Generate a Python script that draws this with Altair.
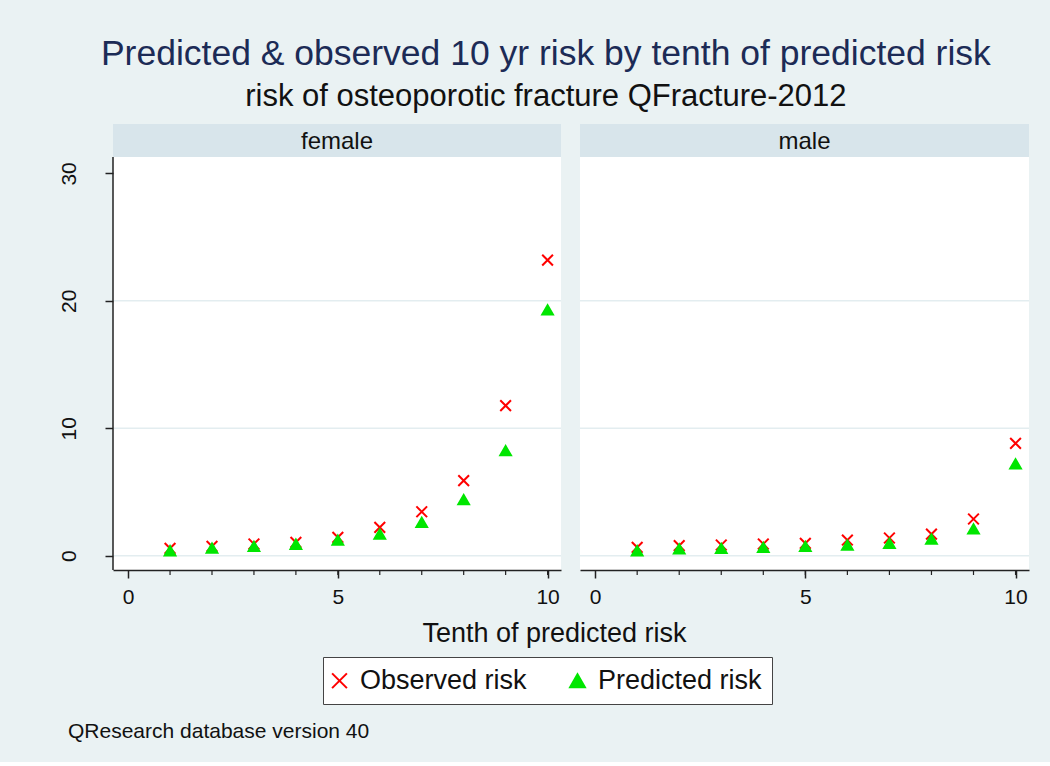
import altair as alt
import pandas as pd

FONT = "Liberation Sans"

# Tenths of predicted risk (x) and 10-year risk in percent (y)
tenths = [1, 2, 3, 4, 5, 6, 7, 8, 9, 10]
female_observed = [0.58, 0.74, 0.92, 1.05, 1.44, 2.23, 3.45, 5.89, 11.78, 23.2]
female_predicted = [0.39, 0.60, 0.74, 0.90, 1.23, 1.70, 2.62, 4.40, 8.24, 19.29]
male_observed = [0.66, 0.79, 0.84, 0.92, 0.97, 1.23, 1.39, 1.70, 2.88, 8.82]
male_predicted = [0.39, 0.53, 0.58, 0.66, 0.74, 0.84, 0.97, 1.31, 2.10, 7.20]

groups = ["female", "male"]
series_names = ["Observed risk", "Predicted risk"]
x_tick_values = [0, 5, 10]
y_tick_values = [0, 10, 20, 30]
grid_levels = [0, 10, 20]

title_text = "Predicted & observed 10 yr risk by tenth of predicted risk"
subtitle_text = "risk of osteoporotic fracture QFracture-2012"
x_title = "Tenth of predicted risk"
footer_text = "QResearch database version 40"

rows = []
for sex, obs, pred in [("female", female_observed, female_predicted),
                       ("male", male_observed, male_predicted)]:
    for name, vals in [("Observed risk", obs), ("Predicted risk", pred)]:
        for t, v in zip(tenths, vals):
            rows.append({"sex": sex, "tenth": t, "series": name, "risk": v})
df = pd.DataFrame(rows)

# Each panel: a 33px header strip on top of a 413px plotting region
HEADER_H = 33
PANEL_H = 446
X_SCALE = alt.Scale(domain=[-0.36, 10.32], nice=False, zero=False)
Y_SCALE = alt.Scale(domain=[-1.12, 33.88], nice=False, zero=False)

# X drawn as two crossing strokes, triangles filled
X_PATH = "M-1,-1L1,1M1,-1L-1,1"
shape_scale = alt.Scale(domain=series_names, range=[X_PATH, "triangle-up"])
color_scale = alt.Scale(domain=series_names, range=["#FF0000", "#00E600"])

legend = alt.Legend(
    title=None, orient="none", legendX=210, legendY=533,
    direction="horizontal", fillColor="white", strokeColor="#444",
    padding=10, labelFontSize=27, labelFont=FONT, labelColor="#111",
    labelLimit=0, symbolSize=220, symbolStrokeWidth=2, columnPadding=39,
    labelOffset=7, symbolOffset=-7,
)


def panel(sex, width, first):
    label_df = pd.DataFrame({"sex": [sex]})

    x_axis = alt.Axis(
        values=x_tick_values, format="d", grid=False,
        domainColor="#222", domainWidth=1.5, tickColor="#222", tickWidth=1.5,
        tickSize=8, labelFontSize=21, labelFont=FONT, labelColor="#111",
        labelPadding=8,
        title=x_title if first else None,
        **(dict(titleX=441, titleY=71, titleBaseline="alphabetic",
                titleAlign="center", titleFontSize=27, titleFont=FONT,
                titleColor="#111", titleFontWeight="normal") if first else {}),
    )
    if first:
        y_axis = alt.Axis(
            values=y_tick_values, grid=False, title=None, domain=False,
            tickColor="#222", tickWidth=1.5, tickSize=8, labelAngle=270,
            labelAlign="center", labelBaseline="alphabetic", labelPadding=30,
            labelFontSize=21, labelFont=FONT, labelColor="#111",
        )
    else:
        y_axis = None

    x_enc = alt.X("tenth:Q", scale=X_SCALE, axis=x_axis)

    grid = alt.Chart(pd.DataFrame({"level": grid_levels})).mark_rule(
        color="#E3EDF0", strokeWidth=1.5
    ).encode(y=alt.Y("level:Q", scale=Y_SCALE, axis=y_axis))

    strip = alt.Chart(label_df).mark_rect(color="#D8E5EB").encode(
        x=alt.value(0), x2=alt.value(width),
        y=alt.value(0), y2=alt.value(HEADER_H),
    )
    strip_text = alt.Chart(label_df).mark_text(
        fontSize=24, font=FONT, color="#111", baseline="alphabetic"
    ).encode(text="sex:N", x=alt.value(width / 2), y=alt.value(25))

    # short minor ticks at every tenth below the x axis line
    minor = alt.Chart(pd.DataFrame({"tenth": tenths})).mark_rule(
        color="#222", strokeWidth=1.2
    ).encode(x=x_enc, y=alt.value(PANEL_H), y2=alt.value(PANEL_H + 5))

    points = alt.Chart(df).transform_filter(
        alt.datum.sex == sex
    ).mark_point(size=115, strokeWidth=2, opacity=1).encode(
        x=x_enc,
        y=alt.Y("risk:Q", scale=Y_SCALE, axis=y_axis),
        shape=alt.Shape("series:N", scale=shape_scale, legend=legend),
        fill=alt.Fill("series:N", scale=color_scale, legend=legend),
        stroke=alt.Stroke("series:N", scale=color_scale, legend=legend),
    )

    layers = [grid, strip, strip_text, minor, points]
    if first:
        y_line = alt.Chart(label_df).mark_rule(
            color="#222", strokeWidth=1.5
        ).encode(x=alt.value(0), y=alt.value(HEADER_H), y2=alt.value(PANEL_H))
        note = alt.Chart(pd.DataFrame({"note": [footer_text]})).mark_text(
            align="left", baseline="alphabetic", fontSize=21, font=FONT,
            color="#111",
        ).encode(text="note:N", x=alt.value(-45), y=alt.value(614))
        layers += [y_line, note]

    return alt.layer(*layers).properties(width=width, height=PANEL_H)


chart = alt.hconcat(
    panel("female", 448, True),
    panel("male", 449, False),
    spacing=19,
    bounds="flush",
    title=alt.TitleParams(
        text=title_text, subtitle=subtitle_text,
        fontSize=35.5, font=FONT, color="#1C2B56", fontWeight="normal",
        subtitleFontSize=31, subtitleFont=FONT, subtitleColor="#111",
        subtitlePadding=10, anchor="middle", offset=12, dx=2,
    ),
).configure(
    background="#EAF2F3",
    padding={"left": 58, "top": 36, "right": 20, "bottom": 20},
).configure_view(stroke=None, fill="white")

chart.save("out.html", embed_options={"renderer": "svg", "actions": False})
